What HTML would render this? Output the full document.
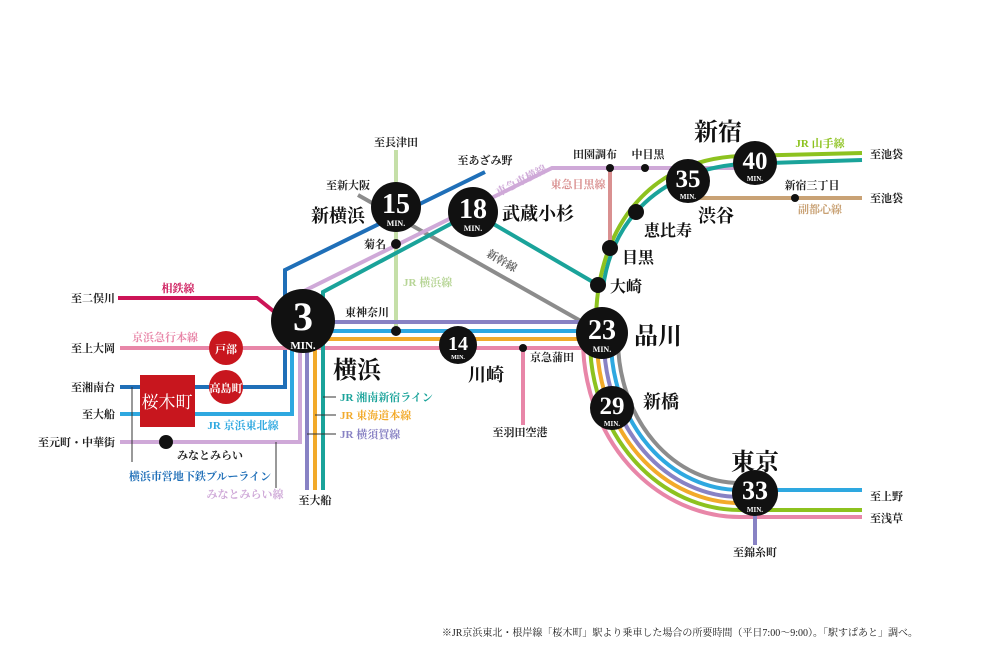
<!DOCTYPE html>
<html><head><meta charset="utf-8"><style>
html,body{margin:0;padding:0;background:#fff;}
svg{display:block;}
text{font-family:"Liberation Serif","Noto Serif CJK JP","Noto Serif CJK SC",serif;font-weight:bold;}
.s{font-size:11px;fill:#222;}
.b{font-size:18px;fill:#111;}
.B{font-size:24px;fill:#111;}
.n{font-family:"Liberation Serif",serif;fill:#fff;font-weight:normal;}
</style></head><body>
<svg width="1000" height="666" viewBox="0 0 1000 666" xmlns="http://www.w3.org/2000/svg">
<g fill="none" stroke-width="4">
<!-- JR Yokohama line -->
<path d="M396 150 V331" stroke="#c5dfa8"/>
<!-- shinkansen -->
<path d="M358 195 L602 333" stroke="#8c8c8c"/>
<!-- blue line -->
<path d="M120 387 H285 V270 L485 172" stroke="#1f6fb8"/>
<!-- sotetsu -->
<path d="M118 298 H257 L282 318" stroke="#cc1457"/>
<!-- keikyu -->
<path d="M120 348 H602" stroke="#e886a8"/>
<path d="M523 348 V425" stroke="#e886a8"/>
<!-- keihin-tohoku -->
<path d="M120 414 H292 V331 H602" stroke="#2ea8e0"/>
<!-- tokaido -->
<path d="M315 490 V339 H602" stroke="#f2aa2a"/>
<!-- yokosuka -->
<path d="M307 490 V322 H602" stroke="#8882c4"/>
<!-- minatomirai / toyoko -->
<path d="M120 442 H300 V293 L552 168 H740" stroke="#cfa9d8"/>
<!-- teal shonan-shinjuku -->
<path d="M323 490 V292 L473 212 L598 285" stroke="#1aa39a"/>
<path d="M603 288 C610 230 650 172 740 164 L862 160" stroke="#1aa39a"/>
<!-- yamanote upper -->
<path d="M596 322 C596 240 640 160 740 156 L862 153" stroke="#8dc21f"/>
<!-- meguro line -->
<path d="M610 168 V248" stroke="#d99090"/>
<!-- fukutoshin -->
<path d="M688 198 H862" stroke="#c9a275"/>
<!-- arc to Tokyo -->
<path d="M583 340 A157 177 0 0 0 740 517 H862" stroke="#e886a8"/>
<path d="M590 340 A150 170 0 0 0 740 510 H862" stroke="#8dc21f"/>
<path d="M597 340 A143 163 0 0 0 740 503" stroke="#f2aa2a"/>
<path d="M604 340 A136 157 0 0 0 740 497" stroke="#8882c4"/>
<path d="M611 340 A129 150 0 0 0 740 490 H862" stroke="#2ea8e0"/>
<path d="M618 340 A122 143 0 0 0 740 483" stroke="#8c8c8c"/>
<path d="M755 500 V545" stroke="#8882c4"/>
<!-- leaders -->
<g stroke="#333" stroke-width="1">
<path d="M132 387 V462"/><path d="M276 442 V488"/>
<path d="M323 397 H336"/><path d="M315 415 H336"/><path d="M307 434 H336"/>
</g>
</g>
<!-- small dots -->
<g fill="#111">
<circle cx="396" cy="244" r="5"/><circle cx="396" cy="331" r="5"/>
<circle cx="523" cy="348" r="4"/><circle cx="610" cy="168" r="4"/><circle cx="645" cy="168" r="4"/>
<circle cx="795" cy="198" r="4"/><circle cx="166" cy="442" r="7"/>
<circle cx="598" cy="285" r="8"/><circle cx="610" cy="248" r="8"/><circle cx="636" cy="212" r="8"/>
</g>
<!-- sakuragicho etc -->
<rect x="140" y="375" width="55" height="52" fill="#c8161e"/>
<text x="167" y="408" font-size="17" fill="#fff" text-anchor="middle" style="font-weight:normal">桜木町</text>
<circle cx="226" cy="348" r="17" fill="#c8161e"/><text x="226" y="353" font-size="11" fill="#fff" text-anchor="middle">戸部</text>
<circle cx="226" cy="387" r="17" fill="#c8161e"/><text x="226" y="392" font-size="11" fill="#fff" text-anchor="middle">高島町</text>
<!-- big circles -->
<g fill="#111">
<circle cx="303" cy="321" r="32"/><circle cx="396" cy="207" r="25"/><circle cx="473" cy="212" r="25"/>
<circle cx="458" cy="345" r="19"/><circle cx="602" cy="333" r="26"/><circle cx="612" cy="408" r="22"/>
<circle cx="755" cy="493" r="23"/><circle cx="688" cy="181" r="22"/><circle cx="755" cy="163" r="22"/>
</g>
<g class="n" text-anchor="middle">
<text x="303" y="330" font-size="40">3</text><text x="303" y="349" font-size="11">MIN.</text>
<text x="396" y="213" font-size="28">15</text><text x="396" y="226" font-size="8">MIN.</text>
<text x="473" y="218" font-size="28">18</text><text x="473" y="231" font-size="8">MIN.</text>
<text x="458" y="350" font-size="20">14</text><text x="458" y="359" font-size="6">MIN.</text>
<text x="602" y="339" font-size="28">23</text><text x="602" y="352" font-size="8">MIN.</text>
<text x="612" y="414" font-size="25">29</text><text x="612" y="426" font-size="7">MIN.</text>
<text x="755" y="499" font-size="26">33</text><text x="755" y="512" font-size="7">MIN.</text>
<text x="688" y="187" font-size="25">35</text><text x="688" y="199" font-size="7">MIN.</text>
<text x="755" y="169" font-size="25">40</text><text x="755" y="181" font-size="7">MIN.</text>
</g>
<!-- labels -->
<g class="s">
<text x="396" y="146" text-anchor="middle">至長津田</text>
<text x="485" y="164" text-anchor="middle">至あざみ野</text>
<text x="348" y="189" text-anchor="middle">至新大阪</text>
<text x="386" y="248" text-anchor="end">菊名</text>
<text x="345" y="316">東神奈川</text>
<text x="530" y="361">京急蒲田</text>
<text x="520" y="436" text-anchor="middle">至羽田空港</text>
<text x="870" y="500">至上野</text><text x="870" y="522">至浅草</text>
<text x="755" y="556" text-anchor="middle">至錦糸町</text>
<text x="595" y="158" text-anchor="middle">田園調布</text><text x="648" y="158" text-anchor="middle">中目黒</text>
<text x="870" y="158">至池袋</text><text x="870" y="202">至池袋</text>
<text x="812" y="189" text-anchor="middle">新宿三丁目</text>
<text x="115" y="302" text-anchor="end">至二俣川</text>
<text x="115" y="352" text-anchor="end">至上大岡</text>
<text x="115" y="391" text-anchor="end">至湘南台</text>
<text x="115" y="418" text-anchor="end">至大船</text>
<text x="115" y="446" text-anchor="end">至元町・中華街</text>
<text x="177" y="459">みなとみらい</text>
<text x="315" y="504" text-anchor="middle">至大船</text>
<text x="918" y="636" text-anchor="end" style="font-size:10px;font-weight:normal">※JR京浜東北・根岸線「桜木町」駅より乗車した場合の所要時間（平日7:00～9:00）。「駅すぱあと」調べ。</text>
</g>
<g font-size="11">
<text x="178" y="292" fill="#cc1457" text-anchor="middle">相鉄線</text>
<text x="165" y="341" fill="#e886a8" text-anchor="middle">京浜急行本線</text>
<text x="243" y="429" fill="#2ea8e0" text-anchor="middle">JR 京浜東北線</text>
<text x="200" y="480" fill="#1f6fb8" text-anchor="middle">横浜市営地下鉄ブルーライン</text>
<text x="245" y="498" fill="#cfa9d8" text-anchor="middle">みなとみらい線</text>
<text x="340" y="401" fill="#1aa39a">JR 湘南新宿ライン</text>
<text x="340" y="419" fill="#f2aa2a">JR 東海道本線</text>
<text x="340" y="438" fill="#8882c4">JR 横須賀線</text>
<text x="403" y="286" fill="#b7d596">JR 横浜線</text>
<text x="578" y="188" fill="#d99090" text-anchor="middle">東急目黒線</text>
<text x="820" y="147" fill="#8dc21f" text-anchor="middle">JR 山手線</text>
<text x="820" y="213" fill="#c9a275" text-anchor="middle">副都心線</text>
<text transform="translate(523,184) rotate(-27)" fill="#cfa9d8" text-anchor="middle">東急東横線</text>
<text transform="translate(500,264) rotate(30)" fill="#666" text-anchor="middle">新幹線</text>
</g>
<g>
<text class="b" x="338" y="222" text-anchor="middle">新横浜</text>
<text class="b" x="502" y="220">武蔵小杉</text>
<text class="B" x="333" y="378">横浜</text>
<text class="b" x="468" y="381">川崎</text>
<text class="B" x="634" y="344">品川</text>
<text class="b" x="643" y="408">新橋</text>
<text class="B" x="755" y="470" text-anchor="middle">東京</text>
<text class="B" x="718" y="140" text-anchor="middle">新宿</text>
<text class="b" x="698" y="222">渋谷</text>
<text class="b" x="644" y="236" style="font-size:16px">恵比寿</text>
<text class="b" x="622" y="263" style="font-size:16px">目黒</text>
<text class="b" x="610" y="292" style="font-size:16px">大崎</text>
</g>
</svg>
</body></html>
